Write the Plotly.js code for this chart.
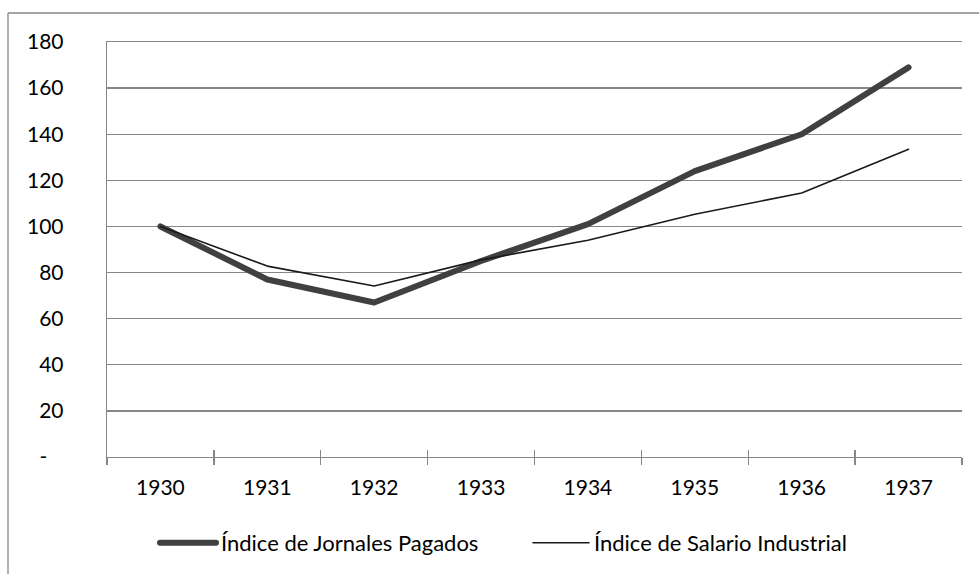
<!DOCTYPE html>
<html>
<head>
<meta charset="utf-8">
<script src="https://cdn.plot.ly/plotly-3.0.1.min.js"></script>
<style>
html,body{margin:0;padding:0;background:#fff;}
#chart{width:979px;height:574px;}
.js-line{stroke-linecap:round;stroke-linejoin:round;}
</style>
</head>
<body>
<div id="chart"></div>
<script>
const years = ['1930','1931','1932','1933','1934','1935','1936','1937'];
const jornales = [100, 77, 67, 85, 101, 124, 140, 169];
const salario = [100, 82.8, 74.2, 85.5, 94, 105.3, 114.5, 133.5];
const yTickVals = [0, 20, 40, 60, 80, 100, 120, 140, 160, 180];
const yTickText = ['-\u00A0\u00A0\u00A0', '20', '40', '60', '80', '100', '120', '140', '160', '180'];
const seriesNames = ['Índice de Jornales Pagados', 'Índice de Salario Industrial'];

const FONT = 'Lato, "Liberation Sans", sans-serif';
const GRID = '#878787';
const L = 107, R = 17, T = 42, B = 117, W = 979, H = 574;
const pw = W - L - R, ph = H - T - B;
const px = v => (v - L) / pw;
const py = v => (H - B - v) / ph;

const traces = [
  {x: years, y: jornales, type: 'scatter', mode: 'lines', name: seriesNames[0],
   line: {color: '#404040', width: 6}, xaxis: 'x', yaxis: 'y'},
  {x: years, y: salario, type: 'scatter', mode: 'lines', name: seriesNames[1],
   line: {color: '#1a1a1a', width: 1.6}, xaxis: 'x2', yaxis: 'y'}
];

const xCommon = {
  type: 'category', tickson: 'boundaries', ticklen: 7, tickwidth: 1.3,
  tickcolor: GRID, showline: true, linecolor: GRID, linewidth: 1.3,
  showgrid: false, zeroline: false, range: [-0.5, 7.5], fixedrange: true, automargin: false
};

const layout = {
  width: W, height: H,
  margin: {l: L, r: R, t: T, b: B, pad: 0, autoexpand: false},
  paper_bgcolor: '#fff', plot_bgcolor: '#fff',
  font: {family: FONT, size: 21, color: '#000'},
  showlegend: true,
  legend: {orientation: 'h', x: px(155), xanchor: 'left', y: py(522), yanchor: 'top',
           font: {family: FONT, size: 22, color: '#000'}, itemwidth: 56,
           entrywidth: 302, entrywidthmode: 'pixels', tracegroupgap: 0},
  xaxis: Object.assign({}, xCommon, {ticks: 'outside', showticklabels: true, ticklabelstandoff: 11,
          mirror: true, tickfont: {family: FONT, size: 21, color: '#000'}}),
  xaxis2: Object.assign({}, xCommon, {ticks: 'inside', showticklabels: false,
          overlaying: 'x', anchor: 'y', side: 'bottom'}),
  yaxis: {range: [0, 180], tickvals: yTickVals, ticktext: yTickText, tickmode: 'array',
          showgrid: true, gridcolor: GRID, gridwidth: 1.3, showline: true,
          linecolor: GRID, linewidth: 1.3, ticks: '', ticklabelstandoff: 38,
          zeroline: false, fixedrange: true, automargin: false,
          tickfont: {family: FONT, size: 21, color: '#000'}},
  shapes: [
    {type: 'line', xref: 'paper', yref: 'paper', x0: px(8), x1: px(979), y0: py(13), y1: py(13),
     line: {color: GRID, width: 1.3}},
    {type: 'line', xref: 'paper', yref: 'paper', x0: px(8), x1: px(8), y0: py(13), y1: py(574),
     line: {color: GRID, width: 1.3}}
  ]
};

Plotly.newPlot('chart', traces, layout, {displayModeBar: false, staticPlot: true});
</script>
</body>
</html>
